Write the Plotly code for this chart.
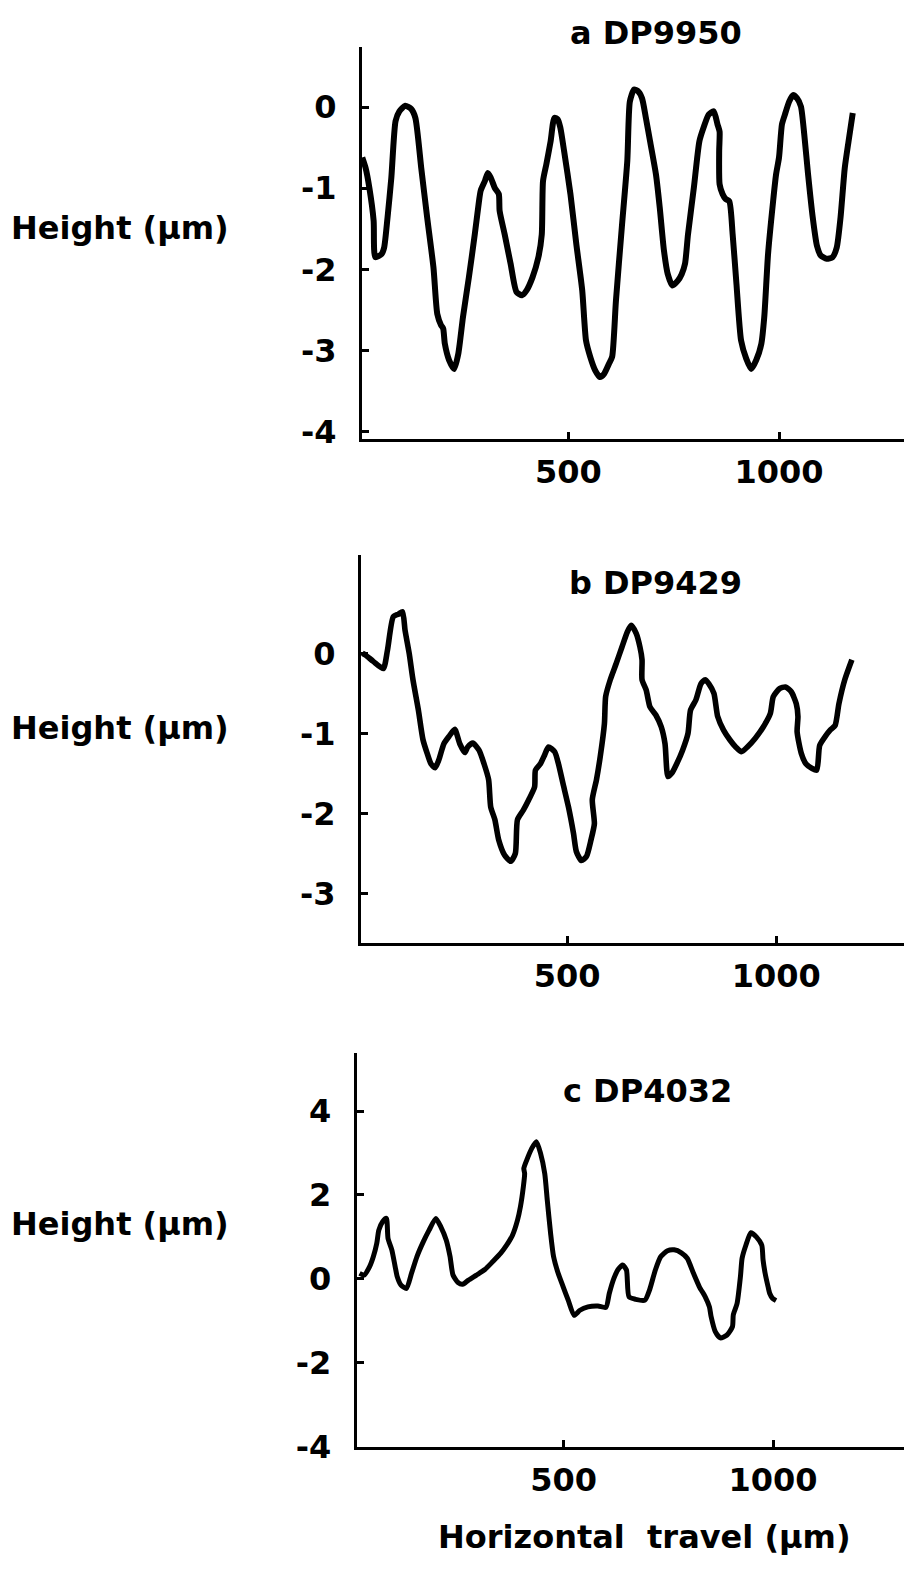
import plotly.graph_objects as go

# Surface profiles: horizontal travel (um) vs height (um)
a_x = [11, 19, 28, 38, 42, 57, 63, 71, 80, 90, 99, 113, 127, 137, 151, 165, 180, 189, 198, 203,
       207, 217, 229, 239, 250, 264, 278, 288, 292, 302, 309, 316, 326, 335, 337, 349, 363, 377,
       390, 401, 415, 429, 437, 440, 448, 458, 467, 475, 481, 490, 505, 519, 533, 542, 552, 564,
       575, 585, 597, 604, 613, 627, 640, 646, 656, 665, 675, 684, 694, 708, 717, 727, 736, 747,
       760, 769, 777, 784, 798, 811, 821, 833, 845, 854, 859, 858, 859, 866, 873, 882, 890, 899,
       910, 922, 934, 946, 958, 965, 974, 986, 993, 1000, 1007, 1014, 1024, 1033, 1043, 1052,
       1060, 1069, 1080, 1090, 1099, 1113, 1127, 1137, 1146, 1156, 1165, 1175]
a_y = [-0.62, -0.75, -1.0, -1.4, -1.85, -1.81, -1.73, -1.36, -0.87, -0.17, -0.05, 0.02, -0.02,
       -0.13, -0.75, -1.36, -1.98, -2.55, -2.69, -2.73, -2.92, -3.12, -3.23, -3.04, -2.59, -2.10,
       -1.57, -1.16, -1.03, -0.91, -0.81, -0.87, -1.0, -1.07, -1.28, -1.57, -1.93, -2.28, -2.32,
       -2.26, -2.10, -1.85, -1.57, -0.91, -0.70, -0.42, -0.13, -0.15, -0.25, -0.54, -1.07, -1.69,
       -2.26, -2.88, -3.08, -3.25, -3.33, -3.29, -3.16, -3.08, -2.39, -1.48, -0.66, 0.07, 0.22,
       0.20, 0.11, -0.13, -0.42, -0.83, -1.24, -1.77, -2.06, -2.20, -2.14, -2.06, -1.93, -1.57,
       -0.99, -0.42, -0.25, -0.09, -0.05, -0.21, -0.30, -0.54, -0.95, -1.07, -1.13, -1.16, -1.57,
       -2.18, -2.88, -3.10, -3.23, -3.12, -2.92, -2.59, -1.81, -1.16, -0.83, -0.62, -0.21, -0.09,
       0.07, 0.15, 0.11, 0.01, -0.34, -0.83, -1.36, -1.71, -1.83, -1.87, -1.85, -1.73, -1.36,
       -0.75, -0.42, -0.07]

b_x = [10, 17, 36, 60, 70, 84, 96, 106, 112, 122, 131, 144, 155, 165, 174, 184, 193, 205, 217,
       231, 243, 255, 262, 274, 289, 301, 312, 317, 327, 336, 350, 365, 376, 381, 395, 408, 422,
       424, 436, 446, 455, 470, 479, 490, 503, 515, 522, 534, 546, 557, 565, 560, 570, 579, 589,
       592, 603, 617, 631, 644, 653, 665, 674, 679, 679, 689, 698, 712, 725, 734, 741, 750, 762,
       776, 789, 795, 808, 820, 830, 839, 851, 860, 874, 889, 903, 917, 931, 950, 969, 986, 993,
       1008, 1022, 1036, 1048, 1052, 1050, 1060, 1071, 1086, 1097, 1104, 1117, 1129, 1141, 1150,
       1164, 1181]
b_y = [0.0, -0.02, -0.10, -0.19, 0.04, 0.46, 0.49, 0.52, 0.29, 0.0, -0.33, -0.71, -1.08, -1.25,
       -1.38, -1.43, -1.33, -1.13, -1.04, -0.95, -1.13, -1.24, -1.17, -1.12, -1.21, -1.38, -1.58,
       -1.92, -2.08, -2.33, -2.52, -2.60, -2.50, -2.08, -1.96, -1.83, -1.67, -1.46, -1.38, -1.27,
       -1.17, -1.23, -1.38, -1.63, -1.92, -2.25, -2.48, -2.59, -2.54, -2.33, -2.13, -1.83, -1.58,
       -1.29, -0.88, -0.54, -0.33, -0.13, 0.08, 0.27, 0.35, 0.25, 0.08, -0.08, -0.33, -0.46, -0.67,
       -0.77, -0.92, -1.13, -1.54, -1.50, -1.38, -1.21, -1.00, -0.71, -0.58, -0.38, -0.33, -0.38,
       -0.50, -0.79, -0.96, -1.08, -1.17, -1.23, -1.17, -1.06, -0.92, -0.75, -0.54, -0.44, -0.42,
       -0.48, -0.63, -0.79, -0.98, -1.25, -1.38, -1.44, -1.46, -1.15, -1.04, -0.96, -0.90, -0.63,
       -0.33, -0.08]

c_x = [13, 24, 37, 46, 54, 59, 68, 77, 81, 90, 98, 103, 112, 125, 137, 150, 165, 179, 195, 207,
       220, 229, 236, 248, 259, 273, 292, 312, 331, 350, 364, 378, 390, 397, 404, 407, 405, 412,
       424, 435, 445, 455, 461, 469, 476, 487, 499, 511, 525, 539, 558, 582, 601, 609, 620, 630,
       641, 650, 656, 672, 694, 705, 719, 732, 748, 764, 781, 795, 810, 824, 838, 848, 852, 862,
       874, 890, 903, 905, 914, 922, 926, 935, 947, 960, 973, 976, 981, 988, 992, 999, 1007]
c_y = [0.13, 0.09, 0.29, 0.53, 0.84, 1.16, 1.36, 1.44, 0.96, 0.69, 0.29, 0.05, -0.15, -0.23,
       0.13, 0.53, 0.88, 1.16, 1.44, 1.24, 0.92, 0.53, 0.09, -0.09, -0.13, -0.03, 0.09, 0.22, 0.41,
       0.61, 0.80, 1.04, 1.40, 1.72, 2.20, 2.51, 2.63, 2.83, 3.11, 3.27, 2.99, 2.51, 1.88, 1.08,
       0.53, 0.13, -0.19, -0.51, -0.87, -0.75, -0.67, -0.65, -0.68, -0.35, 0.01, 0.22, 0.33, 0.21,
       -0.43, -0.49, -0.51, -0.27, 0.21, 0.53, 0.67, 0.69, 0.62, 0.49, 0.13, -0.19, -0.43, -0.67,
       -0.90, -1.26, -1.41, -1.34, -1.14, -0.86, -0.59, 0.05, 0.49, 0.80, 1.10, 1.00, 0.80, 0.45,
       0.13, -0.19, -0.35, -0.47, -0.52]

titles = ["a DP9950", "b DP9429", "c DP4032"]
x_tick_vals = [500, 1000]
x_tick_text = ["500", "1000"]
a_ticks = [0, -1, -2, -3, -4]
b_ticks = [0, -1, -2, -3]
c_ticks = [4, 2, 0, -2, -4]
y_label = "Height (\u00b5m)"
x_label = "Horizontal  travel (\u00b5m)"

FONT = "DejaVu Sans"
W, H = 904, 1569


def dash(v):
    return str(v).replace("\u2212", "-")


panels = [
    dict(x=a_x, y=a_y, ticks=a_ticks, xr=[10.4, 1296.6], yr=[-4.095, 0.748],
         xl=362, top=46.7, bot=439, lw=6, title_y=33, title_x=656, lab_y=228),
    dict(x=b_x, y=b_y, ticks=b_ticks, xr=[6.7, 1305.7], yr=[-3.615, 1.23],
         xl=361, top=555, bot=942.5, lw=5.6, title_y=583, title_x=655, lab_y=728),
    dict(x=c_x, y=c_y, ticks=c_ticks, xr=[6.2, 1312.4], yr=[-4.01, 5.39],
         xl=356.7, top=1052.7, bot=1447, lw=5, title_y=1091, title_x=647, lab_y=1224),
]

fig = go.Figure()
annotations = []
layout = {}
for i, p in enumerate(panels, start=1):
    sfx = "" if i == 1 else str(i)
    fig.add_trace(go.Scatter(
        x=p["x"], y=p["y"], mode="lines", xaxis="x" + sfx, yaxis="y" + sfx,
        line=dict(color="black", width=p["lw"], shape="spline", smoothing=0.6),
        showlegend=False, hoverinfo="skip",
    ))
    common = dict(showgrid=False, zeroline=False, showline=True, linecolor="black",
                  linewidth=3, ticks="inside", ticklen=7, tickwidth=3, tickcolor="black",
                  automargin=False,
                  tickfont=dict(family=FONT, size=32, color="black", weight="bold"))
    layout["xaxis" + sfx] = dict(
        common, domain=[p["xl"] / W, 1], range=p["xr"], anchor="y" + sfx,
        tickvals=x_tick_vals, ticktext=x_tick_text, ticklabelstandoff=3,
    )
    layout["yaxis" + sfx] = dict(
        common, domain=[1 - p["bot"] / H, 1 - p["top"] / H], range=p["yr"], anchor="x" + sfx,
        tickvals=p["ticks"], ticktext=[dash(t) for t in p["ticks"]], ticklabelstandoff=16,
    )
    annotations.append(dict(
        text=titles[i - 1], x=p["title_x"] / W, y=1 - p["title_y"] / H, xref="paper", yref="paper",
        showarrow=False, xanchor="center", yanchor="middle",
        font=dict(family=FONT, size=32, color="black", weight="bold"),
    ))
    annotations.append(dict(
        text=y_label, x=120 / W, y=1 - p["lab_y"] / H, xref="paper", yref="paper",
        showarrow=False, xanchor="center", yanchor="middle",
        font=dict(family=FONT, size=32, color="black", weight="bold"),
    ))

annotations.append(dict(
    text=x_label, x=644 / W, y=1 - 1537 / H, xref="paper", yref="paper",
    showarrow=False, xanchor="center", yanchor="middle",
    font=dict(family=FONT, size=32, color="black", weight="bold"),
))

fig.update_layout(
    width=W, height=H, margin=dict(l=0, r=0, t=0, b=0, autoexpand=False),
    paper_bgcolor="white", plot_bgcolor="white",
    annotations=annotations, **layout,
)

fig.write_html("out.html")
